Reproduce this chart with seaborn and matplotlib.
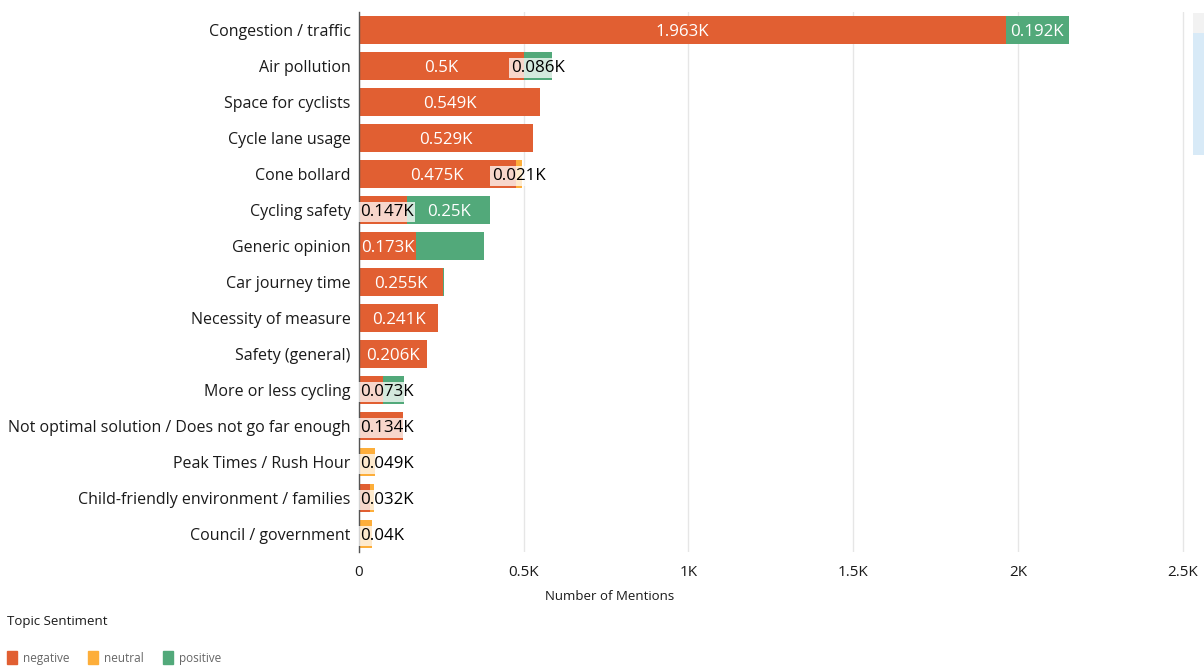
import matplotlib
matplotlib.use("Agg")
import matplotlib.pyplot as plt
import matplotlib.patches as mpatches
from matplotlib.ticker import FixedLocator
import numpy as np
import pandas as pd
import seaborn as sns

categories = [
    "Congestion / traffic", "Air pollution", "Space for cyclists", "Cycle lane usage",
    "Cone bollard", "Cycling safety", "Generic opinion", "Car journey time",
    "Necessity of measure", "Safety (general)", "More or less cycling",
    "Not optimal solution / Does not go far enough", "Peak Times / Rush Hour",
    "Child-friendly environment / families", "Council / government",
]
negative = [1963, 500, 549, 529, 475, 147, 173, 255, 241, 206, 73, 134, 0, 32, 0]
neutral = [0, 0, 0, 0, 21, 0, 0, 0, 0, 0, 0, 0, 49, 13, 40]
positive = [192, 86, 0, 0, 0, 250, 206, 3, 0, 0, 64, 0, 0, 0, 0]
# which segment values are shown as data labels (QuickSight hides some)
show_negative = [1, 1, 1, 1, 1, 1, 1, 1, 1, 1, 1, 1, 0, 1, 0]
show_neutral = [0, 0, 0, 0, 1, 0, 0, 0, 0, 0, 0, 0, 1, 0, 1]
show_positive = [1, 1, 0, 0, 0, 1, 0, 0, 0, 0, 0, 0, 0, 0, 0]
x_ticks = [0, 500, 1000, 1500, 2000, 2500]
x_tick_labels = ["0", "0.5K", "1K", "1.5K", "2K", "2.5K"]

C_NEG = "#E15F32"
C_NEU = "#FDAE3A"
C_POS = "#52A97A"

sns.set_theme(style="white")
plt.rcParams["font.family"] = ["Open Sans", "DejaVu Sans"]

df = pd.DataFrame({
    "topic": categories,
    "negative": negative,
    "neutral": neutral,
    "positive": positive,
})
df["c_neg"] = df["negative"]
df["c_neu"] = df["negative"] + df["neutral"]
df["c_pos"] = df["c_neu"] + df["positive"]

fig = plt.figure(figsize=(12.04, 6.67), dpi=100)
ax_left = 359 / 1204
ax_right = 1186 / 1204
ax_top = 1 - 12 / 667
ax_bottom = 1 - 552 / 667
ax = fig.add_axes([ax_left, ax_bottom, ax_right - ax_left, ax_top - ax_bottom])

for col, color in [("c_pos", C_POS), ("c_neu", C_NEU), ("c_neg", C_NEG)]:
    sns.barplot(data=df, y="topic", x=col, orient="h", color=color,
                width=0.8, linewidth=0, saturation=1, ax=ax, order=categories)

ax.set_xlim(0, 2510)
ax.set_ylim(len(categories) - 0.5, -0.5)
ax.set_xticks(x_ticks)
ax.set_xticklabels(x_tick_labels)
ax.grid(axis="x", color="#E6E6E6", linewidth=1)
ax.set_axisbelow(True)
for s in ["top", "right", "bottom"]:
    ax.spines[s].set_visible(False)
ax.spines["left"].set_color("#555555")
ax.spines["left"].set_linewidth(1.0)
ax.tick_params(axis="x", length=0, labelsize=11, colors="#1a1a1a", pad=9)
ax.tick_params(axis="y", which="major", length=0, labelsize=11.5, colors="#1a1a1a", pad=6)
ax.yaxis.set_minor_locator(FixedLocator(np.arange(-0.5, len(categories), 1.0)))
ax.tick_params(axis="y", which="minor", length=5, width=1, color="#555555", direction="out")
ax.set_ylabel("")
ax.set_xlabel("Number of Mentions", fontsize=9.5, color="#1a1a1a")
ax.xaxis.set_label_coords(0.303, -0.07)


def fmt(v):
    return f"{v / 1000:g}K"

fig.canvas.draw()
renderer = fig.canvas.get_renderer()
px_per_unit = ax.transData.transform((1, 0))[0] - ax.transData.transform((0, 0))[0]

for i in range(len(categories)):
    segs = [
        (0, negative[i], show_negative[i]),
        (negative[i], neutral[i], show_neutral[i]),
        (negative[i] + neutral[i], positive[i], show_positive[i]),
    ]
    for start, val, show in segs:
        if not show or val <= 0:
            continue
        label = fmt(val)
        center = start + val / 2
        t = ax.text(center, i, label, ha="center", va="center_baseline", fontsize=12.2,
                    color="white")
        bb = t.get_window_extent(renderer=renderer)
        w_units = bb.width / px_per_unit
        if w_units > val + 3 / px_per_unit:
            t.set_color("black")
            t.set_bbox(dict(boxstyle="square,pad=0.1", facecolor="white", alpha=0.75,
                            edgecolor="none"))
            if center - w_units / 2 < 0:
                t.set_x(1 / px_per_unit)
                t.set_ha("left")

# Legend
fig.text(7 / 1204, 1 - 622 / 667, "Topic Sentiment", fontsize=9.5, color="#1a1a1a",
         va="center", ha="left")
handles = [mpatches.Patch(color=c, label=l) for c, l in
           [(C_NEG, "negative"), (C_NEU, "neutral"), (C_POS, "positive")]]
fig.legend(handles=handles, loc="center left", bbox_to_anchor=(0, 1 - 658 / 667),
           ncol=3, frameon=False, fontsize=8.5, handlelength=0.85, handleheight=1.2,
           handletextpad=0.5, columnspacing=1.6, labelcolor="#666666", borderaxespad=0.2)

# scrollbar remnant at right edge
fig.patches.append(mpatches.Rectangle((1193 / 1204, 1 - 155 / 667), 11 / 1204, 122 / 667,
                                      transform=fig.transFigure, facecolor="#D8EAF7",
                                      edgecolor="none"))
fig.patches.append(mpatches.Rectangle((1193 / 1204, 1 - 33 / 667), 11 / 1204, 20 / 667,
                                      transform=fig.transFigure, facecolor="#F2F2F2",
                                      edgecolor="none"))

fig.savefig("out.png", dpi=100)
